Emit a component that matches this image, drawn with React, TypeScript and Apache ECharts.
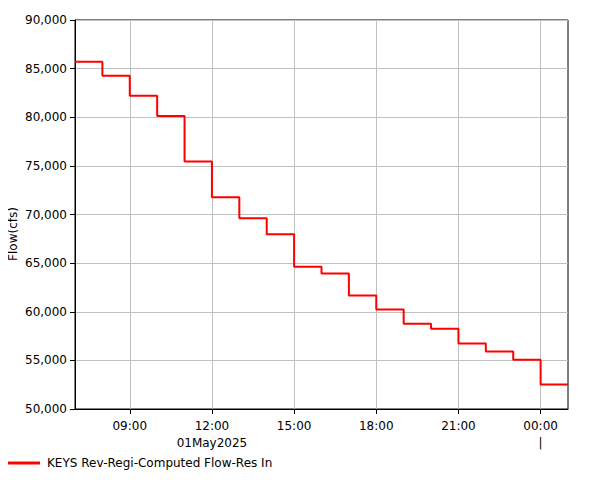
import React, { useEffect, useRef } from "react";
import * as echarts from "echarts";

const times = [
  "07:00", "08:00", "09:00", "10:00", "11:00", "12:00", "13:00", "14:00", "15:00",
  "16:00", "17:00", "18:00", "19:00", "20:00", "21:00", "22:00", "23:00", "00:00", "01:00",
];
// hourly values, each starting at the matching time above
const flowValues = [
  85700, 84260, 82200, 80140, 75450, 71780, 69620, 67980, 64620,
  63930, 61670, 60220, 58770, 58250, 56740, 55920, 55060, 52530,
];
const yTicks = { min: 50000, max: 90000, interval: 5000 };
const seriesName = "KEYS Rev-Regi-Computed Flow-Res In";
const yAxisName = "Flow(cfs)";
const dateLabel = "01May2025";
const dateUnder = "12:00";
const dayBoundary = "00:00";

const FONT = "DejaVu Sans";

export default function App() {
  const ref = useRef<HTMLDivElement>(null);
  useEffect(() => {
    if (!ref.current) return;
    const chart = echarts.init(ref.current, null, { renderer: "svg" });
    const showEvery3 = (_i: number, v: string) => parseInt(v, 10) % 3 === 0;
    const stepData = [...flowValues, flowValues[flowValues.length - 1]];
    chart.setOption({
      animation: false,
      backgroundColor: "#ffffff",
      textStyle: { fontFamily: FONT },
      grid: {
        left: 75,
        top: 20,
        right: 33,
        bottom: 71,
        containLabel: false,
        outerBoundsMode: "none",
        show: true,
        borderColor: "#000000",
        borderWidth: 1,
        backgroundColor: "transparent",
      },
      graphic: [
        {
          type: "text",
          x: 13,
          y: 234,
          rotation: Math.PI / 2,
          style: {
            text: yAxisName,
            fontFamily: FONT,
            fontSize: 12,
            fill: "#000000",
            align: "center",
            verticalAlign: "middle",
          },
        },
      ],
      legend: {
        left: 7,
        top: 457,
        padding: 0,
        itemWidth: 33,
        itemHeight: 3,
        itemGap: 10,
        textStyle: { fontFamily: FONT, fontSize: 12, color: "#000000", padding: [0, 0, 0, 2] },
        data: [{ name: seriesName, icon: "rect", itemStyle: { color: "#ff0000" } }],
      },
      xAxis: {
        type: "category",
        data: times,
        boundaryGap: false,
        axisLine: { show: true, lineStyle: { color: "#000000", width: 1 } },
        axisTick: { show: true, length: 5, interval: showEvery3, lineStyle: { color: "#000000" } },
        splitLine: { show: true, interval: showEvery3, lineStyle: { color: "#c0c0c0", width: 1 } },
        axisLabel: {
          interval: showEvery3,
          margin: 8,
          fontFamily: FONT,
          fontSize: 12,
          color: "#000000",
          lineHeight: 17,
          formatter: (v: string) => {
            if (v === dateUnder) return v + "\n" + dateLabel;
            if (v === dayBoundary) return v + "\n|";
            return v;
          },
        },
      },
      yAxis: {
        type: "value",
        min: yTicks.min,
        max: yTicks.max,
        interval: yTicks.interval,
        axisLine: { show: true, lineStyle: { color: "#000000", width: 1 } },
        axisTick: { show: true, length: 5, lineStyle: { color: "#000000" } },
        splitLine: { show: true, lineStyle: { color: "#c0c0c0", width: 1 } },
        axisLabel: {
          margin: 8,
          fontFamily: FONT,
          fontSize: 12,
          color: "#000000",
          formatter: (v: number) => v.toLocaleString("en-US"),
        },
      },
      series: [
        {
          name: seriesName,
          type: "line",
          step: "end",
          showSymbol: false,
          symbol: "none",
          data: stepData,
          lineStyle: { color: "#ff0000", width: 2 },
          itemStyle: { color: "#ff0000" },
        },
      ],
    });
    return () => chart.dispose();
  }, []);
  return <div ref={ref} style={{ width: 601, height: 480, margin: -8 }} />;
}
